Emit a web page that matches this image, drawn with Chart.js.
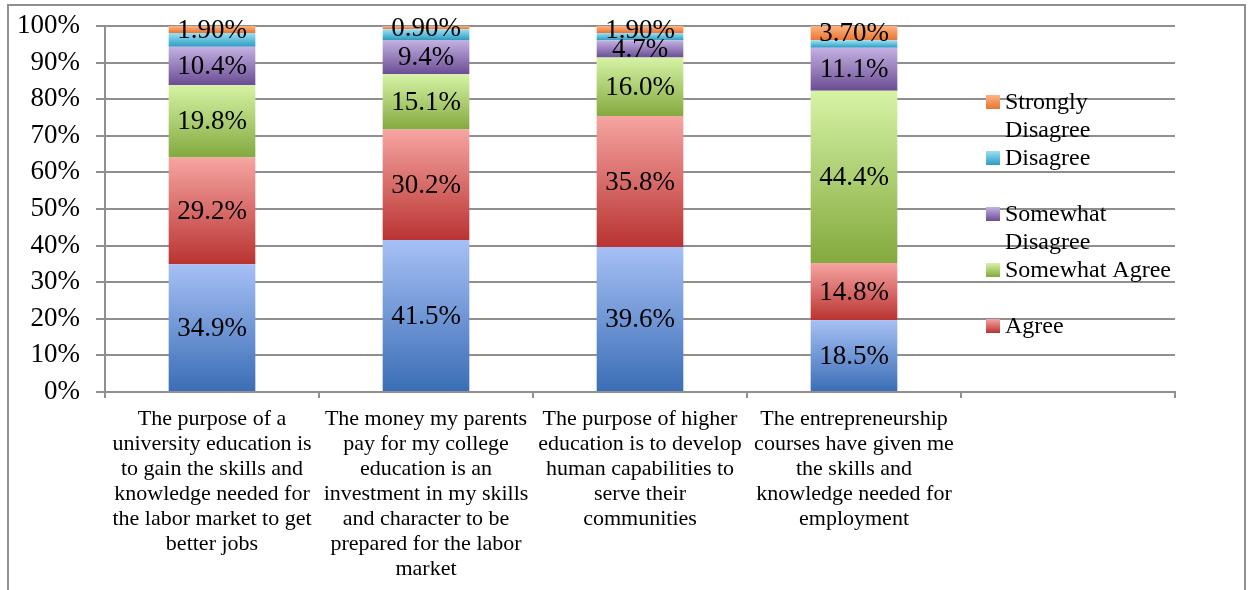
<!DOCTYPE html>
<html>
<head>
<meta charset="utf-8">
<script src="https://cdn.jsdelivr.net/npm/chart.js@4.4.1/dist/chart.umd.min.js"></script>
<style>
  html, body { margin: 0; padding: 0; background: #fff; }
  #wrap { position: relative; width: 1249px; height: 590px; }
</style>
</head>
<body>
<div id="wrap"><canvas id="c" width="1249" height="590"></canvas></div>
<script>
// ---- data ----
const categories = [
  ["The purpose of a", "university education is", "to gain the skills and", "knowledge needed for", "the labor market to get", "better jobs"],
  ["The money my parents", "pay for my college", "education is an", "investment in my skills", "and character to be", "prepared for the labor", "market"],
  ["The purpose of higher", "education is to develop", "human capabilities to", "serve their", "communities"],
  ["The entrepreneurship", "courses have given me", "the skills and", "knowledge needed for", "employment"],
  ""
];
const seriesNames = ["Strongly Agree", "Agree", "Somewhat Agree", "Somewhat Disagree", "Disagree", "Strongly Disagree"];
const stronglyAgree     = [34.9, 41.5, 39.6, 18.5, null];
const agree             = [29.2, 30.2, 35.8, 14.8, null];
const somewhatAgree     = [19.8, 15.1, 16.0, 44.4, null];
const somewhatDisagree  = [10.4,  9.4,  4.7, 11.1, null];
const disagree          = [ 3.8,  2.9,  2.0,  1.9, null];
const stronglyDisagree  = [ 1.9,  0.9,  1.9,  3.7, null];
const yTickValues = [0, 10, 20, 30, 40, 50, 60, 70, 80, 90, 100];

// ---- styles ----
const seriesValues = [stronglyAgree, agree, somewhatAgree, somewhatDisagree, disagree, stronglyDisagree];
const labelDecimals = [1, 1, 1, 1, null, 2];   // null = no data label
const gradStops = [
  ["#a6c0f5", "#3a6db5"],
  ["#f6a5a2", "#b93331"],
  ["#d6f3a6", "#84a93e"],
  ["#c4b2e2", "#6a4c94"],
  ["#98e1f6", "#2c9cc2"],
  ["#fcb482", "#ea7430"]
];
const FONT = "'Liberation Serif', 'Times New Roman', serif";

const totals = categories.map((_, i) => seriesValues.reduce((s, arr) => s + (arr[i] || 0), 0));
const shares = seriesValues.map(arr => arr.map((v, i) => v == null ? null : v / totals[i] * 100));

function cumBelow(d, i) {
  let s = 0;
  for (let k = 0; k < d; k++) s += shares[k][i] || 0;
  return s;
}

function makeBg(d) {
  return function (ctx) {
    const chart = ctx.chart;
    if (ctx.type !== 'data' || !chart.chartArea || !chart.scales.y) return gradStops[d][1];
    const i = ctx.dataIndex;
    const lo = cumBelow(d, i);
    const hi = lo + (shares[d][i] || 0);
    const y0 = chart.scales.y.getPixelForValue(lo);
    const y1 = chart.scales.y.getPixelForValue(hi);
    if (!isFinite(y0) || !isFinite(y1) || y0 === y1) return gradStops[d][1];
    const g = chart.ctx.createLinearGradient(0, y1, 0, y0);
    g.addColorStop(0, gradStops[d][0]);
    g.addColorStop(1, gradStops[d][1]);
    return g;
  };
}

const datasets = seriesNames.map((name, d) => ({
  label: name,
  data: shares[d],
  backgroundColor: makeBg(d),
  borderWidth: 0,
  categoryPercentage: 1.0,
  barPercentage: 0.405,
  stack: 's'
}));

// data labels
const labelPlugin = {
  id: 'segLabels',
  afterDatasetsDraw(chart) {
    const c = chart.ctx;
    c.save();
    c.font = "27px " + FONT;
    c.fillStyle = "#000";
    c.textAlign = "center";
    c.textBaseline = "middle";
    chart.data.datasets.forEach((ds, d) => {
      if (labelDecimals[d] == null) return;
      const meta = chart.getDatasetMeta(d);
      meta.data.forEach((el, i) => {
        const v = seriesValues[d][i];
        if (v == null) return;
        const txt = v.toFixed(labelDecimals[d]) + "%";
        c.fillText(txt, el.x, (el.y + el.base) / 2 + 1);
      });
    });
    c.restore();
  }
};

// legend + outer border
const legendOrder = [5, 4, 3, 2, 1];
const legendLines = {
  5: ["Strongly", "Disagree"],
  4: ["Disagree"],
  3: ["Somewhat", "Disagree"],
  2: ["Somewhat Agree"],
  1: ["Agree"]
};
const decorPlugin = {
  id: 'decor',
  afterDraw(chart) {
    const c = chart.ctx;
    c.save();
    // outer frame
    c.strokeStyle = "#8f8f8f";
    c.lineWidth = 2;
    c.strokeRect(8, 5, 1237, 620);
    // legend
    c.font = "24px " + FONT;
    c.textAlign = "left";
    c.textBaseline = "middle";
    legendOrder.forEach((d, k) => {
      const cy = 102 + k * 56;
      const g = c.createLinearGradient(0, cy - 7, 0, cy + 7);
      g.addColorStop(0, gradStops[d][0]);
      g.addColorStop(1, gradStops[d][1]);
      c.fillStyle = g;
      c.fillRect(986, cy - 7, 14, 14);
      c.fillStyle = "#000";
      legendLines[d].forEach((ln, j) => c.fillText(ln, 1005, cy + 1 + j * 28));
    });
    c.restore();
  }
};

new Chart(document.getElementById('c'), {
  type: 'bar',
  data: { labels: categories, datasets },
  plugins: [labelPlugin, decorPlugin],
  options: {
    responsive: false,
    animation: false,
    events: [],
    layout: { padding: { top: 26, right: 74, bottom: 0, left: 0 } },
    plugins: { legend: { display: false }, tooltip: { enabled: false } },
    scales: {
      x: {
        stacked: true,
        grid: { offset: true, drawOnChartArea: false, drawTicks: true, tickLength: 6, color: "#8f8f8f", lineWidth: 2 },
        border: { display: true, color: "#8f8f8f", width: 2 },
        ticks: {
          color: "#000",
          font: { family: FONT, size: 22, lineHeight: 25 / 22 },
          padding: 9,
          maxRotation: 0,
          autoSkip: false
        },
        afterFit(scale) { scale.height = 198; scale.paddingLeft = 0; scale.paddingRight = 0; }
      },
      y: {
        stacked: true,
        min: 0,
        max: 100,
        afterBuildTicks(scale) { scale.ticks = yTickValues.map(v => ({ value: v })); },
        grid: { color: "#8f8f8f", lineWidth: 2, tickLength: 9 },
        border: { display: true, color: "#8f8f8f", width: 2 },
        ticks: {
          color: "#000",
          font: { family: FONT, size: 27 },
          padding: 16,
          callback: v => v + "%"
        },
        afterFit(scale) { scale.width = 105; scale.paddingTop = 0; scale.paddingBottom = 0; }
      }
    }
  }
});
</script>
</body>
</html>
